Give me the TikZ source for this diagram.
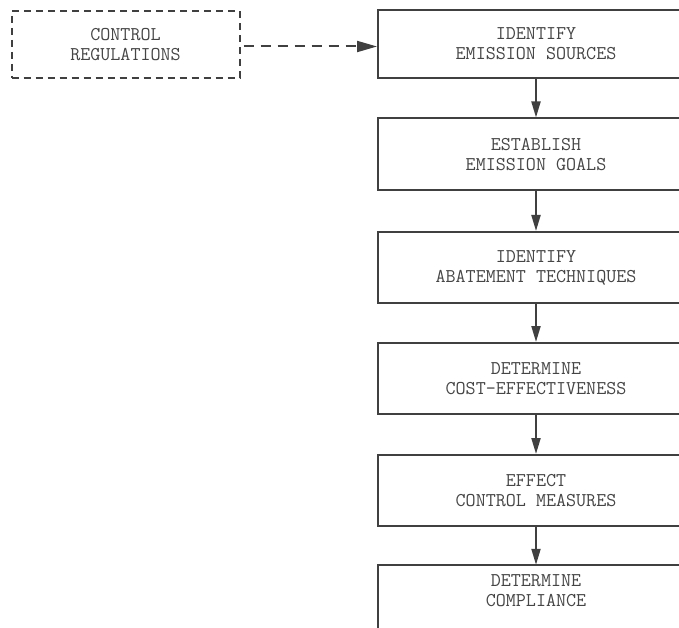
\documentclass[tikz,border=0pt]{standalone}
\usetikzlibrary{arrows.meta}
\definecolor{linec}{HTML}{404040}
\definecolor{txtc}{HTML}{454545}
\newcommand{\txtfont}{\fontsize{19.5}{20}\selectfont\ttfamily}
\begin{document}
\begin{tikzpicture}[x=1pt,y=-1pt,
  proc/.style={draw=linec, line width=2pt, minimum width=316pt, minimum height=#1,
    inner sep=0pt, align=center, font=\txtfont, text=txtc},
  procopen/.style={minimum width=316pt, minimum height=52pt,
    inner sep=0pt, align=center, font=\txtfont, text=txtc},
  boxline/.style={draw=linec, line width=2pt},
  dashbox/.style={draw=linec, line width=2pt, dash pattern=on 7pt off 5pt,
    minimum width=228pt, minimum height=67pt, inner sep=0pt, align=center,
    font=\txtfont, text=txtc},
  flow/.style={draw=linec, line width=2pt, -{Triangle[length=16pt,width=9pt]}},
  dflow/.style={draw=linec, line width=2pt, dash pattern=on 10pt off 7pt,
    -{Triangle[length=20pt,width=11pt]}}
]
\useasboundingbox (0,0) rectangle (679,628);
\clip (0,0) rectangle (679,628);

\node[dashbox] (reg) at (125.5,44.5) {CONTROL\\REGULATIONS};

\node[proc=68pt] (b1) at (536,44) {IDENTIFY\\EMISSION SOURCES};
\node[proc=72pt] (b2) at (536,154.5) {ESTABLISH\\EMISSION GOALS};
\node[proc=71pt] (b3) at (536,267.5) {IDENTIFY\\ABATEMENT TECHNIQUES};
\node[proc=71pt] (b4) at (536,378.5) {DETERMINE\\COST-EFFECTIVENESS};
\node[proc=71pt] (b5) at (536,490.5) {EFFECT\\CONTROL MEASURES};
\node[procopen] (b6) at (536,591) {DETERMINE\\COMPLIANCE};
\draw[boxline] (b6.north east) -- (b6.north west) -- ++(0,80);

\draw[dflow] (reg.east) ++(3,2) coordinate (rs) -- (rs -| b1.west);
\draw[flow] (b1) -- (b2);
\draw[flow] (b2) -- (b3);
\draw[flow] (b3) -- (b4);
\draw[flow] (b4) -- (b5);
\draw[flow] (b5.south) -- (b6.north);
\end{tikzpicture}
\end{document}
